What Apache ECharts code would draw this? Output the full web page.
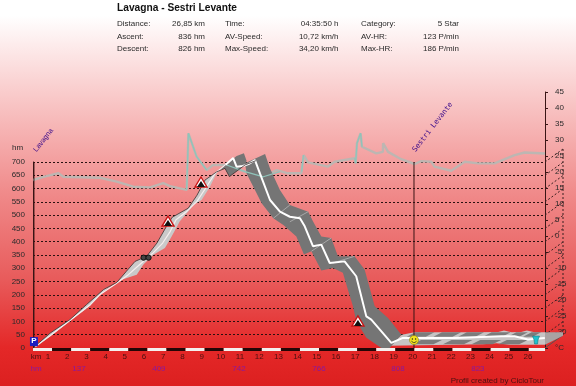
<!DOCTYPE html>
<html><head><meta charset="utf-8">
<style>html,body{margin:0;padding:0;background:#fff}#c{width:576px;height:386px}</style>
<script src="https://cdn.jsdelivr.net/npm/echarts@6/dist/echarts.min.js"></script>
</head><body><div id="c"></div>
<script>
const titleText = 'Lavagna - Sestri Levante';
const infoLabels1 = ['Distance:', 'Ascent:', 'Descent:'];
const infoValues1 = ['26,85 km', '836 hm', '826 hm'];
const infoLabels2 = ['Time:', 'AV-Speed:', 'Max-Speed:'];
const infoValues2 = ['04:35:50 h', '10,72 km/h', '34,20 km/h'];
const infoLabels3 = ['Category:', 'AV-HR:', 'Max-HR:'];
const infoValues3 = ['5 Star', '123 P/min', '186 P/min'];

const elevationClimb = [[0.1,6],[0.9,46],[2.1,113],[3,163],[3.5,200],[4.4,245],[5,276],[5.6,314],[6.3,358],[6.8,395],[7.2,439],[7.5,483],[8.06,514],[8.6,552],[9.1,607],[9.54,657],[10.1,690]];
const elevationDescent = [[10.1,690],[10.5,715],[10.68,682],[11,685],[11.3,692],[11.64,707],[11.9,657],[12.43,557],[12.95,513],[13.47,494],[14,488],[14.25,458],[14.68,383],[15.12,389],[15.56,320],[16.34,326],[16.95,270],[17.48,119],[17.74,107],[18.79,19],[19.4,38],[22.1,38],[24.56,44],[25.26,44],[25.95,32],[26.84,38]];
const elevationEdge = [[0,0],[0.9,56],[1.94,107],[2.8,163],[3.7,220],[4.4,247],[4.9,289],[5.35,326],[5.96,345],[6.5,395],[7,458],[7.3,492],[8.14,526],[8.6,575],[9.02,632],[9.63,663],[10.07,676],[10.3,645],[11.12,689],[11.69,705]];
const ascentBandLower = [[0.2,6],[0.9,44],[2.1,110],[3,159],[3.5,198],[4.04,232],[4.56,255],[5.44,276],[5.79,314],[6.31,351],[6.92,376],[7.27,420],[7.7,477],[8.23,521],[8.4,538],[8.84,557],[9.28,607],[9.66,663]];
const peakBand = [[9.77,672],[10.68,723],[11.06,733],[11.2,705],[11.12,689],[10.3,645],[10.07,676]];
const descentBandUpper = [[11.12,695],[12.17,730],[12.43,676],[12.95,595],[13.47,538],[14.43,513],[14.68,477],[15.12,420],[15.64,414],[15.99,345],[16.86,345],[17.39,295],[17.92,157],[18.62,113],[19.32,50]];
const descentBandLower = [[18.7,0],[18.27,0],[17.48,39],[16.95,102],[16.78,157],[16.51,220],[16.25,283],[15.73,301],[15.12,292],[14.6,364],[14.21,352],[13.81,420],[13.13,463],[12.6,488],[11.99,545],[11.64,595],[11.2,657]];
const descentStripes = [[12.6,488,13.47,538],[13.47,475,14.43,513],[14.6,364,15.64,414],[15.73,320,16.86,345]];
const flatBand = [[18.6,8],[19.35,50],[20,59],[23,59],[24.4,60],[24.7,66],[25.1,59],[25.6,60],[25.9,66],[26.3,59],[26.85,59],[26.85,12],[25,12],[24.3,18],[23.6,14],[22,12]];
const flatDarkTop = [[19.6,20.6],[21,22],[22.3,23.2],[23.6,24.6],[24.9,25.5],[25.7,26.2]];
const flatDarkBottom = [[19.9,21],[21.5,22.6],[23,24.1],[24.4,25.5]];

const speedKm = [0,0.54,1.33,1.59,3.51,4.39,5.26,6.14,6.83,7.18,8.06,8.15,8.58,9.11,9.44,10.15,11.12,12.08,12.78,13.37,14.07,14.2,14.42,15.47,15.82,16.87,16.92,16.99,17.18,17.25,18,18.35,18.36,18.62,19.31,20.01,20.36,20.89,21.06,21.93,22.64,23.34,24.2,25.26,25.78,26.85];
const speedValues = [17.5,18.5,19.6,18.5,18.2,17,15.4,15.2,16.5,15.6,14.4,32.1,24.8,20.6,22.2,22.2,20.1,18.5,20.6,19.6,19.6,25.3,23,21.7,23.2,24.3,22.7,29,32.1,27.9,25.8,26.3,29,26.3,24,22.5,23.4,23.2,21.7,20.4,23.2,22.7,22.7,25.3,26.1,25.8];
const speedTeal = [[8.06,14.4],[8.15,32.1],[8.58,24.8],[9.11,20.6],[null,null],[10.15,22.2],[11.12,20.1],[12.08,18.5],[12.95,20.1],[null,null],[14.09,20.1],[14.18,25.3],[null,null],[16.87,24.3],[16.92,22.7],[16.99,29],[17.18,32.1],[17.25,27.9]];

const hmTicks = [0,50,100,150,200,250,300,350,400,450,500,550,600,650,700];
const hmMarkKm = [2.41,6.6,10.8,15,19.14,23.33];
const hmMarkLabels = ['137','409','742','766','808','823'];
const stripKm = [0,1,2,3,4,5,6,7,8,9,10,11,12,13,14,15,16,17,18,19,20,21,22,23,24,25,26];
const kmLabels = [1,2,3,4,5,6,7,8,9,10,11,12,13,14,15,16,17,18,19,20,21,22,23,24,25,26];
const waypointKm = [0.05,19.98];
const waypointNames = ['Lavagna','Sestri Levante'];
const iconKm = [0.05,5.93,7.08,8.81,17.04,19.98,26.38];
const iconHm = [26,342,474,621,98,30,30];
const iconTypes = ['parking','bike','pass','pass','pass','smile','end'];

const KM_MAX = 26.85;
const FONT = '"Liberation Sans", Arial, sans-serif';
const chart = echarts.init(document.getElementById('c'), null, {renderer:'canvas'});

const infoText = [];
function addText(x, y, text, align, extra){
  infoText.push({type:'text', x, y, silent:true, style:Object.assign({text, fill:'#2a2a2a', font:'8px '+FONT, align:align||'left', verticalAlign:'middle'}, extra||{})});
}
addText(117, 8, titleText, 'left', {font:'bold 10.2px '+FONT, fill:'#111'});
[24,36.5,49].forEach((y,i)=>{
  addText(117,y,infoLabels1[i]); addText(205,y,infoValues1[i],'right');
  addText(225,y,infoLabels2[i]); addText(338.5,y,infoValues2[i],'right');
  addText(361,y,infoLabels3[i]); addText(459,y,infoValues3[i],'right');
});
addText(12, 148, 'hm');
addText(36, 357, 'km', 'center', {fill:'#4a1010'});
addText(36, 369, 'hm', 'center', {fill:'#8a18a0'});
addText(544, 381, 'Profil created by CicloTour', 'right', {fill:'#4a1010'});

function poly(api, pts, fill){
  return {type:'polygon', shape:{points:pts.map(p=>api.coord(p))}, style:{fill}};
}
function depth(p){ return [p[0]+18, p[1]-13]; }

const bandRender = (params, api) => {
  const kids = [];
  kids.push(poly(api, elevationEdge.slice(0,16).concat(ascentBandLower.slice().reverse()), '#c9c9c9'));
  kids.push(poly(api, flatBand, '#c6c4c4'));
  const rightA = api.coord([KM_MAX,12]), rightB = api.coord([KM_MAX,59]);
  kids.push({type:'polygon', shape:{points:[rightA,rightB,[rightB[0]+18,rightB[1]],[rightA[0]+18,rightA[1]-9]]}, style:{fill:'#a9a3a3'}});
  const slant = 0.45;
  flatDarkTop.forEach(r=>kids.push(poly(api,[[r[0],42],[r[1],42],[r[1]+slant,59],[r[0]+slant,59]],'#7c7c7c')));
  flatDarkBottom.forEach(r=>kids.push(poly(api,[[r[0],14],[r[1],14],[r[1]+slant,30],[r[0]+slant,30]],'#7c7c7c')));
  kids.push(poly(api, peakBand, '#757575'));
  kids.push(poly(api, descentBandUpper.concat(descentBandLower), '#757575'));
  descentStripes.forEach(s=>{
    const a=api.coord([s[0],s[1]]), b=api.coord([s[2],s[3]]);
    kids.push({type:'line', shape:{x1:a[0],y1:a[1],x2:b[0],y2:b[1]}, style:{stroke:'#a8a8a8',lineWidth:1}});
  });
  return {type:'group', children:kids};
};

const depthRender = (params, api) => {
  const kids = [];
  hmTicks.forEach(h=>{
    const a = api.coord([KM_MAX,h]), b = depth(a);
    kids.push({type:'line', shape:{x1:a[0],y1:a[1],x2:b[0],y2:b[1]}, style:{stroke: h===0?'#555':'#3a2020',lineWidth:1,lineDash:h===0?null:[2,2]}});
  });
  const t = depth(api.coord([KM_MAX,700])), f = depth(api.coord([KM_MAX,0]));
  kids.push({type:'line', shape:{x1:t[0],y1:t[1],x2:f[0],y2:f[1]}, style:{stroke:'#3a2020',lineWidth:1,lineDash:[2,2]}});
  return {type:'group', children:kids};
};

const stripRender = (params, api) => {
  const i = api.value(0);
  const a = api.coord([i,0]), b = api.coord([Math.min(i+1,KM_MAX),0]);
  return {type:'rect', shape:{x:a[0],y:a[1],width:b[0]-a[0],height:3}, style:{fill: i%2===0?'#f4f0ee':'#240606'}};
};

const waypointRender = (params, api) => {
  const i = params.dataIndex;
  const a = api.coord([api.value(0),0]), b = api.coord([api.value(0),700]);
  return {type:'group', children:[
    {type:'line', shape:{x1:a[0],y1:a[1],x2:b[0],y2:b[1]}, style:{stroke:'#3a1515',lineWidth:1}},
    {type:'text', x:b[0]+(i===0?1:0), y:b[1]-11, rotation:Math.PI*52/180, style:{text:waypointNames[i], fill:'#3a0a8a', font:(i===1?'7.2px "DejaVu Sans Mono", monospace':'7.2px '+FONT), align:'left', verticalAlign:'middle'}}
  ]};
};

const iconRender = (params, api) => {
  const p = api.coord([api.value(0),api.value(1)]);
  const x=p[0], y=p[1], t=iconTypes[params.dataIndex];
  if(t==='parking') return {type:'group',children:[
    {type:'rect',shape:{x:x-4,y:y-4,width:8,height:9},style:{fill:'#1c1cc0'}},
    {type:'text',x:x,y:y,style:{text:'P',fill:'#fff',font:'bold 8px '+FONT,align:'center',verticalAlign:'middle'}}]};
  if(t==='pass') return {type:'group',children:[
    {type:'polygon',shape:{points:[[x,y-6],[x+6,y+4],[x-6,y+4]]},style:{fill:'#fff',stroke:'#c81414',lineWidth:1.4}},
    {type:'polygon',shape:{points:[[x,y-2],[x+4,y+4],[x-4,y+4]]},style:{fill:'#111'}}]};
  if(t==='bike') return {type:'group',children:[
    {type:'circle',shape:{cx:x-2.5,cy:y+0.5,r:2.6},style:{fill:'#444',stroke:'#111',lineWidth:1}},
    {type:'circle',shape:{cx:x+2.5,cy:y+0.5,r:2.6},style:{fill:'#444',stroke:'#111',lineWidth:1}}]};
  if(t==='smile') return {type:'group',children:[
    {type:'circle',shape:{cx:x,cy:y,r:4.5},style:{fill:'#f2e21e',stroke:'#8a8010',lineWidth:0.6}},
    {type:'circle',shape:{cx:x-1.6,cy:y-1,r:0.7},style:{fill:'#222'}},
    {type:'circle',shape:{cx:x+1.6,cy:y-1,r:0.7},style:{fill:'#222'}},
    {type:'arc',shape:{cx:x,cy:y,r:2.6,startAngle:0.3,endAngle:Math.PI-0.3},style:{stroke:'#222',fill:null,lineWidth:0.7}}]};
  return {type:'group',children:[
    {type:'polygon',shape:{points:[[x-3.5,y-4],[x+3.5,y-4],[x+2,y],[x+1.5,y+4],[x-1.5,y+4],[x-2,y]]},style:{fill:'#20c0cc',stroke:'#0f6a70',lineWidth:0.5}}]};
};

const dashed = {show:true, lineStyle:{color:'#2a1010', type:[2,2], width:1}};
chart.setOption({
  animation:false,
  backgroundColor:{type:'linear',x:0,y:0,x2:0,y2:1,colorStops:[
    {offset:0,color:'#ffffff'},{offset:0.04,color:'#ffffff'},{offset:0.25,color:'#f9c9c9'},{offset:0.5,color:'#f08a8a'},
    {offset:0.72,color:'#e85c5c'},{offset:0.9,color:'#e42828'},{offset:1,color:'#dc2020'}]},
  graphic:{elements:infoText},
  grid:[
    {left:33,right:31,top:162,height:186},
    {left:33,right:31,top:92,height:256}
  ],
  xAxis:[
    {gridIndex:0,type:'value',min:0,max:KM_MAX,show:false},
    {gridIndex:0,type:'value',min:0.21875,max:26.885,position:'bottom',
     axisLine:{show:false},axisTick:{show:false},splitLine:{show:false},
     axisLabel:{margin:5,color:'#4a1010',fontSize:8,fontFamily:FONT,customValues:kmLabels,
       formatter:v=>String(v)}},
    {gridIndex:0,type:'value',min:0,max:KM_MAX,position:'bottom',offset:12,
     axisLine:{show:false},axisTick:{show:false},splitLine:{show:false},
     axisLabel:{margin:5,color:'#8a18a0',fontSize:8,fontFamily:FONT,customValues:hmMarkKm,
       formatter:v=>hmMarkLabels[hmMarkKm.indexOf(v)]||''}},
    {gridIndex:1,type:'value',min:0,max:KM_MAX,show:false}
  ],
  yAxis:[
    {gridIndex:0,type:'value',min:0,max:700,interval:50,offset:2,
     axisLine:{show:true,lineStyle:{color:'#3a1515',width:1}},axisTick:{show:false},
     axisLabel:{margin:6,color:'#2a2a2a',fontSize:8,fontFamily:FONT},
     splitLine:dashed},
    {gridIndex:1,type:'value',min:-35,max:45,interval:5,position:'right',
     axisLine:{show:true,onZero:false,lineStyle:{color:'#3a1515',width:1}},
     axisTick:{show:true,length:3,lineStyle:{color:'#3a1515'}},
     axisLabel:{margin:10,color:'#2a2a2a',fontSize:8,fontFamily:FONT,formatter:v=>v===-35?'°C':String(v)},
     splitLine:{show:false}}
  ],
  series:[
    {type:'line',xAxisIndex:3,yAxisIndex:1,data:speedKm.map((k,i)=>[k,speedValues[i]]),showSymbol:false,clip:false,z:2,
     lineStyle:{color:'#bdb6b2',width:2.4}},
    {type:'custom',xAxisIndex:0,yAxisIndex:0,data:[[0]],renderItem:depthRender,clip:false,z:3,silent:true},
    {type:'custom',xAxisIndex:0,yAxisIndex:0,data:[[0]],renderItem:bandRender,clip:false,z:4,silent:true},
    {type:'line',xAxisIndex:3,yAxisIndex:1,data:speedTeal,showSymbol:false,clip:false,z:5,connectNulls:false,
     lineStyle:{color:'#8fc4ba',width:1.2}},
    {type:'line',xAxisIndex:0,yAxisIndex:0,data:elevationClimb,showSymbol:false,clip:false,z:6,lineStyle:{color:'#f6eeee',width:1.2}},
    {type:'line',xAxisIndex:0,yAxisIndex:0,data:elevationDescent,showSymbol:false,clip:false,z:6,lineStyle:{color:'#ffffff',width:2}},
    {type:'line',xAxisIndex:0,yAxisIndex:0,data:elevationEdge,showSymbol:false,clip:false,z:7,lineStyle:{color:'#3a3030',width:0.8}},
    {type:'custom',xAxisIndex:0,yAxisIndex:0,data:stripKm.map(k=>[k]),renderItem:stripRender,clip:false,z:7,silent:true},
    {type:'custom',xAxisIndex:0,yAxisIndex:0,data:waypointKm.map(k=>[k]),renderItem:waypointRender,clip:false,z:8,silent:true},
    {type:'custom',xAxisIndex:0,yAxisIndex:0,data:iconKm.map((k,i)=>[k,iconHm[i]]),renderItem:iconRender,clip:false,z:9,silent:true}
  ]
});
</script></body></html>
